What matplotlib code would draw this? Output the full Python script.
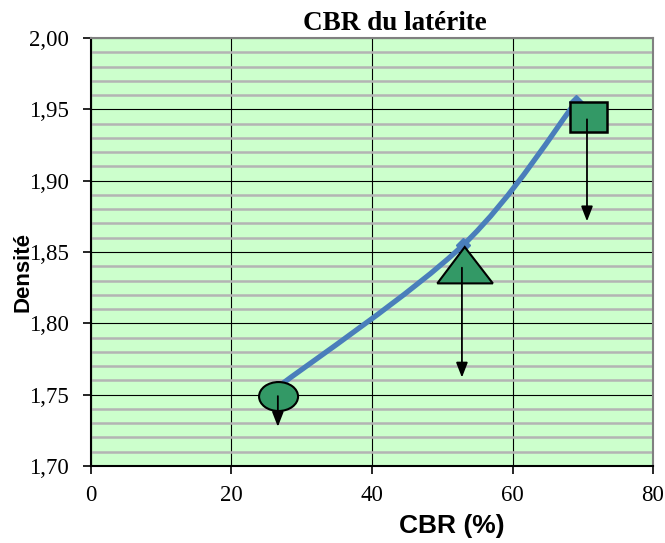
import matplotlib
matplotlib.use('Agg')
import matplotlib.pyplot as plt
from matplotlib.path import Path
from matplotlib.patches import PathPatch, Ellipse, Polygon, Rectangle
from matplotlib.ticker import MultipleLocator, FuncFormatter

# data
cbr = [26.5, 53.0, 69.0]
densite = [1.755, 1.855, 1.955]

x_ticks = [0, 20, 40, 60, 80]
y_ticks = [1.70, 1.75, 1.80, 1.85, 1.90, 1.95, 2.00]

# drawn shapes (circle, triangle, square) with their arrows
circle_c = (26.7, 1.7487)
tri_pts = [(49.3, 1.828), (57.2, 1.828), (53.2, 1.8535)]
square_xy = (68.2, 1.934)
arrows = [((26.6, 1.749), (26.6, 1.7275)),
          ((52.8, 1.839), (52.8, 1.762)),
          ((70.6, 1.943), (70.6, 1.8715))]

green = '#339966'
blue = '#4A7EBB'

fig = plt.figure(figsize=(6.65, 5.43), dpi=100)
ax = fig.add_axes([0.1368, 0.1418, 0.8452, 0.7882])
ax.set_facecolor('#CCFFCC')
ax.set_xlim(0, 80)
ax.set_ylim(1.70, 2.00)

ax.yaxis.set_minor_locator(MultipleLocator(0.01))
ax.grid(which='minor', axis='y', color='#B4B4B4', lw=1.8, zorder=0)
ax.grid(which='major', axis='both', color='black', lw=0.8, zorder=0)
ax.tick_params(which='minor', left=False)
ax.set_xticks(x_ticks)
ax.set_yticks(y_ticks)
ax.yaxis.set_major_formatter(FuncFormatter(lambda v, p: f'{v:.2f}'.replace('.', ',')))
ax.tick_params(which='major', direction='out', length=6, width=1.2,
               labelsize=16.5)
ax.tick_params(axis='y', pad=10)
ax.tick_params(axis='x', pad=8)
for lab in ax.get_xticklabels() + ax.get_yticklabels():
    lab.set_family('Liberation Serif')

for s in ['left', 'bottom']:
    ax.spines[s].set_linewidth(1.5)
for s in ['top', 'right']:
    ax.spines[s].set_color('#808080')
    ax.spines[s].set_linewidth(1.5)

# smoothed line (Excel style bezier)
pts = list(zip(cbr, densite))
verts = [pts[0]]
codes = [Path.MOVETO]
n = len(pts)
for i in range(n - 1):
    p0 = pts[max(i - 1, 0)]
    p1 = pts[i]
    p2 = pts[i + 1]
    p3 = pts[min(i + 2, n - 1)]
    c1 = (p1[0] + (p2[0] - p0[0]) / 6, p1[1] + (p2[1] - p0[1]) / 6)
    c2 = (p2[0] - (p3[0] - p1[0]) / 6, p2[1] - (p3[1] - p1[1]) / 6)
    verts += [c1, c2, p2]
    codes += [Path.CURVE4] * 3
ax.add_patch(PathPatch(Path(verts, codes), fill=False, ec=blue, lw=3.8,
                       capstyle='round', zorder=3))
ax.plot(cbr, densite, ls='none', marker='D', ms=7, color=blue, zorder=3)

ax.add_patch(Ellipse(circle_c, 5.55, 0.0203, fc=green, ec='black', lw=1.5, zorder=4))
ax.add_patch(Polygon(tri_pts, closed=True, fc=green, ec='black', lw=1.5, zorder=4))
ax.add_patch(Rectangle(square_xy, 5.2, 0.021, fc=green, ec='black', lw=1.8, zorder=4))
for start, end in arrows:
    ax.annotate('', xy=end, xytext=start, zorder=5,
                arrowprops=dict(arrowstyle='-|>,head_length=0.9,head_width=0.35',
                                color='black', lw=1.3, shrinkA=0, shrinkB=0))

fig.text(395 / 665, 1 - 24 / 543, 'CBR du latérite', family='Liberation Serif',
         fontweight='bold', fontsize=19.5, ha='center', va='center')
fig.text(452 / 665, 1 - 526 / 543, 'CBR (%)', family='Liberation Sans',
         fontweight='bold', fontsize=19, ha='center', va='center')
fig.text(23 / 665, 1 - 272 / 543, 'Densité', rotation=90,
         family='Liberation Sans', fontweight='bold', fontsize=16,
         ha='center', va='center')

fig.savefig('out.png', dpi=100)
